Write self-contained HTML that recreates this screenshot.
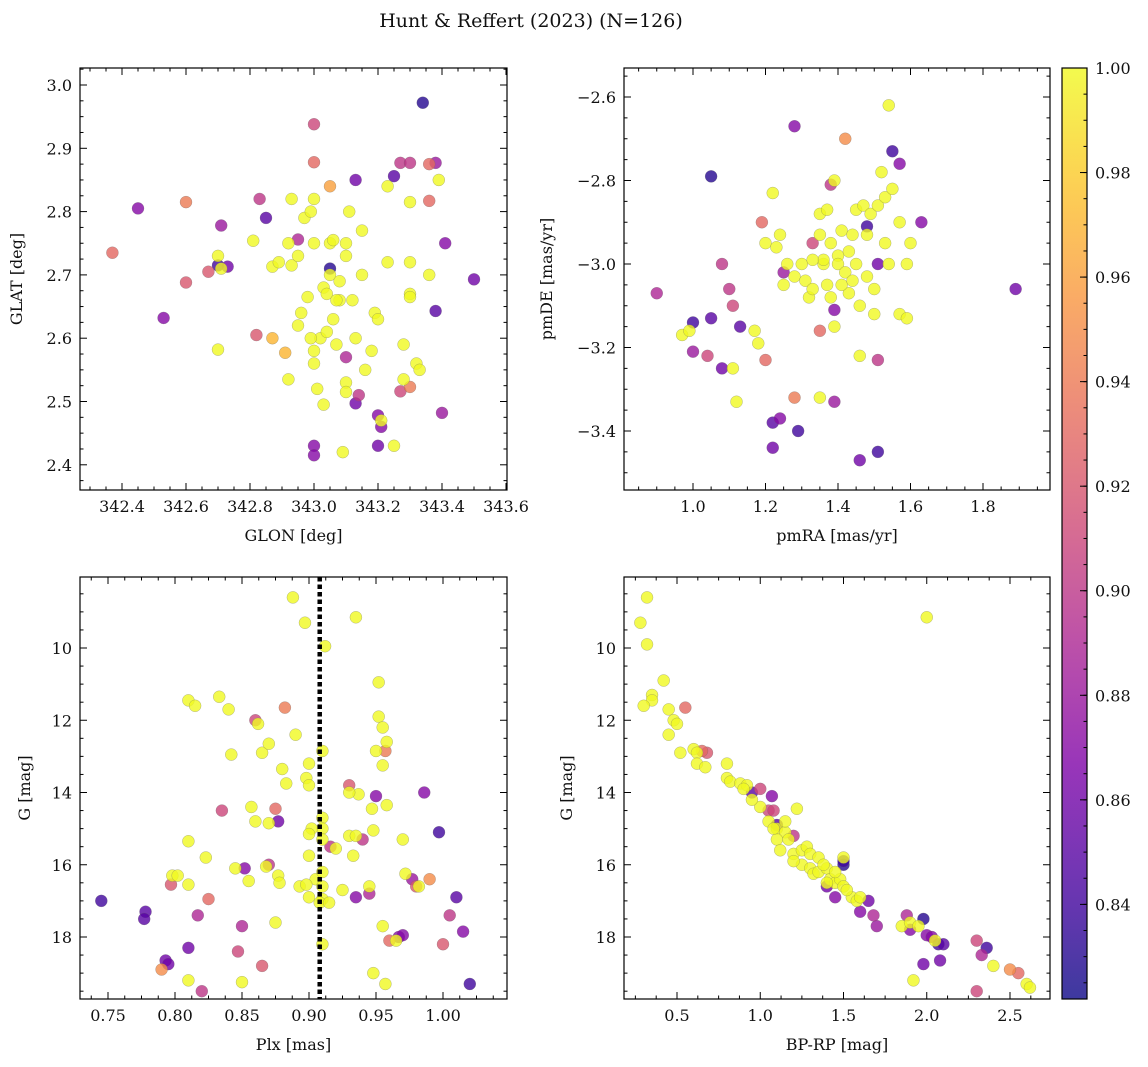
<!DOCTYPE html>
<html><head><meta charset="utf-8">
<style>
body{margin:0;background:#fff;}
svg{display:block;font-family:"DejaVu Serif","Liberation Serif",serif;}
</style></head>
<body>
<svg id="fig" width="1148" height="1067" viewBox="0 0 1148 1067" xmlns="http://www.w3.org/2000/svg">
<text x="531" y="27" font-size="19" text-anchor="middle" fill="#111">Hunt &amp; Reffert (2023) (N=126)</text>
</svg>
<script>
// ---- data: top-left (GLON/GLAT)
const tlX=[342.37,342.45,342.53,342.6,342.6,342.67,342.7,342.71,342.73,342.82,342.83,342.85,342.95,343.0,343.0,343.05,343.05,343.0,343.0,343.1,343.13,343.13,343.14,343.2,343.21,343.2,343.25,343.27,343.3,343.34,343.36,343.38,343.36,343.38,343.41,343.4,343.5,343.27,343.3,342.87,342.91,
342.7,342.71,342.7,342.81,342.87,342.89,342.92,342.93,342.93,342.95,342.97,342.99,343.0,343.0,342.92,342.95,342.96,342.98,343.0,343.0,343.01,343.03,343.02,343.03,343.04,343.05,343.05,343.06,343.07,343.08,343.08,343.1,343.1,343.1,343.09,343.1,343.11,343.12,343.13,343.15,343.15,343.16,343.18,343.19,343.2,343.21,343.23,343.23,343.25,343.28,343.28,343.3,343.3,343.3,343.3,343.32,343.33,343.36,343.39,343.07,343.04,342.99,343.06];
const tlY=[2.735,2.805,2.632,2.815,2.688,2.705,2.715,2.778,2.713,2.605,2.82,2.79,2.756,2.938,2.878,2.84,2.71,2.43,2.415,2.57,2.85,2.497,2.51,2.478,2.46,2.43,2.856,2.877,2.877,2.972,2.875,2.877,2.817,2.643,2.75,2.482,2.693,2.516,2.523,2.6,2.577,
2.73,2.71,2.582,2.754,2.713,2.72,2.75,2.82,2.715,2.73,2.79,2.8,2.82,2.75,2.535,2.62,2.64,2.665,2.58,2.56,2.52,2.495,2.6,2.68,2.67,2.7,2.75,2.63,2.59,2.66,2.69,2.73,2.53,2.515,2.42,2.75,2.8,2.66,2.6,2.77,2.7,2.55,2.58,2.64,2.63,2.47,2.84,2.72,2.43,2.59,2.535,2.67,2.665,2.72,2.815,2.56,2.55,2.7,2.85,2.66,2.61,2.6,2.755];
const tlP=[0.93,0.87,0.87,0.94,0.92,0.92,0.84,0.88,0.86,0.92,0.9,0.85,0.89,0.91,0.93,0.96,0.83,0.87,0.87,0.89,0.86,0.86,0.9,0.87,0.87,0.86,0.85,0.9,0.9,0.83,0.93,0.88,0.93,0.85,0.87,0.88,0.86,0.91,0.94,0.97,0.97];
// ---- data: top-right (pmRA/pmDE)
const trX=[0.9,1.0,1.0,1.04,1.05,1.05,1.08,1.08,1.1,1.11,1.13,1.19,1.2,1.22,1.22,1.24,1.25,1.28,1.28,1.29,1.33,1.35,1.38,1.39,1.39,1.42,1.46,1.48,1.51,1.51,1.51,1.55,1.63,1.89,1.57,
0.97,0.99,1.11,1.12,1.17,1.18,1.2,1.22,1.23,1.24,1.25,1.26,1.28,1.3,1.31,1.32,1.33,1.35,1.35,1.35,1.36,1.37,1.37,1.38,1.38,1.39,1.39,1.4,1.4,1.41,1.42,1.43,1.43,1.44,1.45,1.45,1.46,1.46,1.47,1.48,1.48,1.49,1.5,1.5,1.51,1.52,1.53,1.53,1.54,1.54,1.55,1.57,1.57,1.59,1.59,1.6,1.36,1.41,1.33,1.44];
const trY=[-3.07,-3.14,-3.21,-3.22,-2.79,-3.13,-3.0,-3.25,-3.06,-3.1,-3.15,-2.9,-3.23,-3.38,-3.44,-3.37,-3.02,-2.67,-3.32,-3.4,-2.95,-3.16,-2.81,-3.11,-3.33,-2.7,-3.47,-2.91,-3.45,-3.23,-3.0,-2.73,-2.9,-3.06,-2.76,
-3.17,-3.16,-3.25,-3.33,-3.16,-3.19,-2.95,-2.83,-2.96,-2.93,-3.05,-3.0,-3.03,-3.0,-3.04,-3.08,-3.06,-2.88,-2.93,-3.32,-3.0,-3.05,-2.87,-2.95,-3.08,-2.8,-3.15,-2.98,-3.0,-2.92,-3.02,-2.97,-3.07,-2.93,-3.0,-2.87,-3.22,-3.1,-2.86,-3.03,-2.93,-2.88,-3.06,-3.12,-2.86,-2.78,-2.84,-2.95,-2.62,-3.0,-2.82,-2.9,-3.12,-3.13,-3.0,-2.95,-2.99,-3.05,-2.99,-3.04];
const trP=[0.89,0.84,0.88,0.91,0.83,0.85,0.9,0.86,0.9,0.91,0.85,0.93,0.93,0.85,0.86,0.87,0.88,0.87,0.94,0.84,0.91,0.93,0.9,0.87,0.88,0.95,0.86,0.84,0.84,0.9,0.86,0.84,0.87,0.86,0.87];
// ---- data: bottom-left (Plx/G)
const blX=[0.745,0.778,0.777,0.79,0.793,0.795,0.797,0.81,0.817,0.82,0.825,0.835,0.847,0.85,0.852,0.86,0.865,0.87,0.875,0.877,0.882,0.93,0.935,0.94,0.945,0.95,0.957,0.96,0.967,0.97,0.977,0.98,0.986,0.99,0.997,1.0,1.005,1.01,1.015,1.02,0.916,
0.888,0.897,0.935,0.912,0.952,0.81,0.815,0.833,0.84,0.862,0.89,0.952,0.955,0.958,0.842,0.865,0.87,0.91,0.95,0.88,0.9,0.898,0.955,0.9,0.883,0.937,0.93,0.947,0.958,0.857,0.86,0.87,0.91,0.91,0.91,0.902,0.9,0.93,0.935,0.948,0.933,0.9,0.81,0.823,0.905,0.92,0.91,0.91,0.91,0.925,0.945,0.97,0.982,0.972,0.798,0.802,0.81,0.845,0.855,0.868,0.877,0.878,0.893,0.898,0.9,0.908,0.915,0.955,0.965,0.91,0.875,0.81,0.85,0.948,0.957];
const blY=[17.0,17.3,17.5,18.9,18.65,18.75,16.55,18.3,17.4,19.5,16.95,14.5,18.4,17.7,16.1,12.0,18.8,16.0,14.45,14.8,11.65,13.8,16.9,15.3,16.8,14.1,12.85,18.1,18.0,17.95,16.4,16.6,14.0,16.4,15.1,18.2,17.4,16.9,17.85,19.3,15.5,
8.6,9.3,9.15,9.95,10.95,11.45,11.6,11.35,11.7,12.1,12.4,11.9,12.2,12.6,12.95,12.9,12.65,12.85,12.85,13.35,13.2,13.6,13.25,13.8,13.75,14.05,14.0,14.45,14.35,14.4,14.8,14.85,14.7,15.0,15.3,15.0,15.15,15.2,15.2,15.05,15.75,15.75,15.35,15.8,16.4,15.55,16.2,16.6,16.95,16.7,16.6,15.3,16.6,16.25,16.3,16.3,16.55,16.1,16.45,16.05,16.3,16.5,16.6,16.55,16.9,17.05,17.05,17.7,18.1,18.2,17.6,19.2,19.25,19.0,19.3];
const blP=[0.84,0.85,0.85,0.95,0.86,0.86,0.92,0.86,0.89,0.9,0.93,0.91,0.91,0.89,0.87,0.91,0.92,0.9,0.93,0.86,0.94,0.92,0.87,0.9,0.89,0.87,0.94,0.93,0.87,0.87,0.88,0.92,0.87,0.95,0.84,0.92,0.9,0.85,0.87,0.84,0.9];
const plxLine=0.908;
// ---- data: bottom-right (BP-RP/G)
const brX=[0.55,0.65,0.68,0.95,1.0,1.05,1.07,1.08,1.2,1.1,1.5,1.5,1.6,1.65,1.68,1.7,1.88,1.9,1.98,1.98,2.0,2.03,2.07,2.1,2.08,2.3,2.3,2.33,2.36,2.5,2.55,1.4,1.45,
0.28,0.32,0.32,0.35,0.35,0.3,0.42,0.45,0.45,0.48,0.5,0.52,0.6,0.62,0.62,0.67,0.8,0.8,0.82,0.88,0.92,1.0,1.05,1.1,1.15,1.1,1.17,1.22,1.2,1.25,1.28,1.3,1.25,1.3,1.32,1.35,1.35,1.4,1.42,1.45,1.48,1.5,1.55,1.58,1.52,1.6,1.45,1.5,1.4,1.38,1.85,1.9,1.92,1.95,2.0,2.05,2.4,2.6,2.62,1.2,1.15,0.95,0.9,1.08,1.12];
const brY=[11.65,12.85,12.9,14.0,13.9,14.5,14.1,14.5,15.2,14.9,15.9,16.0,17.3,17.0,17.4,17.7,17.4,17.8,17.5,18.75,17.95,18.0,18.2,18.2,18.65,18.1,19.5,18.5,18.3,18.9,19.0,16.6,16.9,
9.3,8.6,9.9,11.3,11.45,11.6,10.9,11.7,12.4,12.0,12.1,12.9,12.8,12.9,13.2,13.3,13.2,13.6,13.7,13.75,13.8,14.4,14.8,15.0,15.1,15.3,15.3,14.45,15.7,15.6,15.5,15.7,16.0,16.1,16.25,15.8,16.2,16.1,16.4,16.5,16.4,16.6,16.9,17.0,16.7,16.9,16.2,15.8,16.5,16.0,17.7,17.6,19.2,17.7,9.15,18.1,18.8,19.3,19.4,15.9,14.8,14.2,13.9,15.0,15.6];
const brP=[0.93,0.93,0.92,0.85,0.91,0.91,0.87,0.91,0.9,0.85,0.84,0.83,0.87,0.86,0.89,0.88,0.89,0.87,0.83,0.86,0.87,0.87,0.84,0.85,0.86,0.91,0.91,0.89,0.84,0.95,0.93,0.86,0.87];
const cbTicks=[0.84,0.86,0.88,0.90,0.92,0.94,0.96,0.98,1.00];
const pMin=0.8219, pMax=1.0;

const NS="http://www.w3.org/2000/svg";
const svg=document.getElementById('fig');
function mk(tag,attrs,parent){const e=document.createElementNS(NS,tag);for(const k in attrs)e.setAttribute(k,attrs[k]);(parent||svg).appendChild(e);return e;}
const stops=[[0,[13,8,135]],[0.125,[75,3,161]],[0.25,[126,3,168]],[0.375,[170,35,149]],[0.5,[204,71,120]],[0.625,[230,108,92]],[0.75,[248,149,64]],[0.875,[253,196,39]],[1,[240,249,33]]];
function plasma(t){t=Math.max(0,Math.min(1,t));for(let i=1;i<stops.length;i++){if(t<=stops[i][0]){const a=stops[i-1],b=stops[i];const f=(t-a[0])/(b[0]-a[0]);return 'rgb('+a[1].map((v,j)=>Math.round(v+(b[1][j]-v)*f)).join(',')+')';}}return 'rgb(240,249,33)';}
function fmt(v,d){return v<0?'\u2212'+Math.abs(v).toFixed(d):v.toFixed(d);}

function panel(o){
  const g=mk('g',{});
  
  
  const sx=v=>o.x0+(v-o.xmin)/(o.xmax-o.xmin)*(o.x1-o.x0);
  const sy=v=>o.inv? o.y0+(v-o.ymin)/(o.ymax-o.ymin)*(o.y1-o.y0) : o.y1-(v-o.ymin)/(o.ymax-o.ymin)*(o.y1-o.y0);
  const idx=o.X.map((_,i)=>i);
  const pr=i=>i<o.P.length?o.P[i]:1.0;
  idx.sort((a,b)=>pr(a)-pr(b));
  const pg=mk('g',{},g);
  
  
  idx.forEach(i=>{
    const c=mk('circle',{cx:sx(o.X[i]),cy:sy(o.Y[i]),r:6,fill:plasma((pr(i)-pMin)/(pMax-pMin)),'fill-opacity':0.8,stroke:'#666','stroke-width':0.4,'stroke-opacity':0.6},pg);
    
    
  });
  if(o.vline!==undefined){
    const l=mk('line',{x1:sx(o.vline),x2:sx(o.vline),y1:o.y0,y2:o.y1,stroke:'#000','stroke-width':4.5,'stroke-dasharray':'4.5 3'},g);
    
    
  }
  const fr=mk('rect',{x:o.x0,y:o.y0,width:o.x1-o.x0,height:o.y1-o.y0,fill:'none',stroke:'#000','stroke-width':1.2},g);
  
  
  for(let k=Math.ceil(o.xmin/o.xm-1e-6);k*o.xm<=o.xmax+1e-9;k++){
    const v=k*o.xm;const px=sx(v);
    const major=Math.abs(v/o.xt-Math.round(v/o.xt))<1e-6;
    const L=major?7:3.5;
    mk('line',{x1:px,x2:px,y1:o.y1,y2:o.y1-L,stroke:'#000','stroke-width':1},g);
    mk('line',{x1:px,x2:px,y1:o.y0,y2:o.y0+L,stroke:'#000','stroke-width':1},g);
    if(major){const t=mk('text',{x:px,y:o.y1+22,'font-size':16,'text-anchor':'middle',fill:'#111'},g);t.textContent=fmt(v,o.xd);
      }
  }
  for(let k=Math.ceil(Math.min(o.ymin,o.ymax)/o.ym-1e-6);k*o.ym<=Math.max(o.ymin,o.ymax)+1e-9;k++){
    const v=k*o.ym;const py=sy(v);
    const major=Math.abs(v/o.yt-Math.round(v/o.yt))<1e-6;
    const L=major?7:3.5;
    mk('line',{x1:o.x0,x2:o.x0+L,y1:py,y2:py,stroke:'#000','stroke-width':1},g);
    mk('line',{x1:o.x1,x2:o.x1-L,y1:py,y2:py,stroke:'#000','stroke-width':1},g);
    if(major){const t=mk('text',{x:o.x0-8,y:py+6,'font-size':16,'text-anchor':'end',fill:'#111'},g);t.textContent=fmt(v,o.yd);
      }
  }
  const xl=mk('text',{x:(o.x0+o.x1)/2,y:o.y1+51,'font-size':16,'text-anchor':'middle',fill:'#111'},g);xl.textContent=o.xlabel;
  
  const yx=o.ylx, yy=(o.y0+o.y1)/2;
  const yl=mk('text',{x:yx,y:yy,'font-size':16,'text-anchor':'middle',fill:'#111',transform:'rotate(-90 '+yx+' '+yy+')'},g);yl.textContent=o.ylabel;
  
}
panel({name:'glon-glat-panel',x0:80,x1:507,y0:68,y1:490,xmin:342.4-42/320,xmax:342.4+(507-122)/320,ymin:3.0-(490-85)/633,ymax:3.0+(85-68)/633,
  xt:0.2,xm:0.05,yt:0.1,ym:0.025,xd:1,yd:1,X:tlX,Y:tlY,P:tlP,xlabel:'GLON [deg]',ylabel:'GLAT [deg]',ylx:22});
panel({name:'pm-panel',x0:624,x1:1050,y0:68,y1:490,xmin:1.0-69/362.5,xmax:1.0+357/362.5,ymin:-2.6-(490-97)/417.5,ymax:-2.6+(97-68)/417.5,
  xt:0.2,xm:0.05,yt:0.2,ym:0.05,xd:1,yd:1,X:trX,Y:trY,P:trP,xlabel:'pmRA [mas/yr]',ylabel:'pmDE [mas/yr]',ylx:552});
const gs=36.125;
panel({name:'plx-g-panel',x0:80,x1:507,y0:577,y1:999,xmin:0.75-28/1340,xmax:0.75+399/1340,inv:true,ymin:10-(648-577)/gs,ymax:10+(999-648)/gs,
  xt:0.05,xm:0.0125,yt:2,ym:0.5,xd:2,yd:0,X:blX,Y:blY,P:blP,vline:plxLine,xlabel:'Plx [mas]',ylabel:'G [mag]',ylx:30});
panel({name:'cmd-panel',x0:624,x1:1050,y0:577,y1:999,xmin:0.5-53/166.5,xmax:0.5+373/166.5,inv:true,ymin:10-(648-577)/gs,ymax:10+(999-648)/gs,
  xt:0.5,xm:0.125,yt:2,ym:0.5,xd:1,yd:0,X:brX,Y:brY,P:brP,xlabel:'BP-RP [mag]',ylabel:'G [mag]',ylx:572});
const cb=mk('g',{});


const defs=mk('defs',{},cb);
const lg=mk('linearGradient',{id:'cbg',x1:0,y1:1,x2:0,y2:0},defs);
for(let i=0;i<=20;i++){mk('stop',{offset:i/20,'stop-color':plasma(i/20),'stop-opacity':0.8},lg);}
const cy0=68,cy1=999,cx0=1062,cx1=1087;
mk('rect',{x:cx0,y:cy0,width:cx1-cx0,height:cy1-cy0,fill:'url(#cbg)',stroke:'#000','stroke-width':1.2},cb);
const cby=v=>cy1-(v-pMin)/(pMax-pMin)*(cy1-cy0);
for(let v=0.825;v<=1.0001;v+=0.005){const y=cby(v);mk('line',{x1:cx1,x2:cx1-3.5,y1:y,y2:y,stroke:'#000','stroke-width':1},cb);}
cbTicks.forEach(v=>{const y=cby(v);mk('line',{x1:cx1,x2:cx1-7,y1:y,y2:y,stroke:'#000','stroke-width':1},cb);
  const t=mk('text',{x:cx1+8,y:y+6,'font-size':16,fill:'#111'},cb);t.textContent=v.toFixed(2);
  });
</script>
</body></html>
